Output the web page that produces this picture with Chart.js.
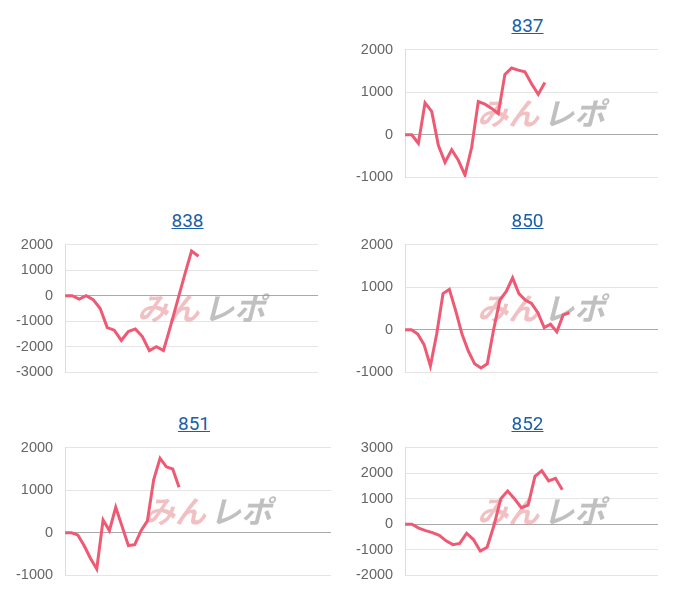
<!DOCTYPE html>
<html><head><meta charset="utf-8">
<script src="https://cdn.jsdelivr.net/npm/chart.js@4"></script>
<style>
body{margin:0;background:#fff;font-family:Roboto,"Liberation Sans",sans-serif;}
.box{position:absolute;width:320px;height:200px;}
.t{position:absolute;left:0;width:100%;top:14px;text-align:center;font-size:19px;}
.t a{color:#1b5fa8;text-decoration:underline;}
.box canvas{position:absolute;left:0;top:29px;}
</style></head><body>
<script>
const s837 = [0,0,-200,750,550,-250,-650,-350,-600,-950,-300,780,720,620,500,1420,1570,1520,1480,1200,950,1230];
const s838 = [0,0,-130,0,-150,-500,-1250,-1350,-1750,-1400,-1300,-1600,-2150,-2000,-2150,-1200,-200,800,1750,1550];
const s850 = [0,0,-100,-350,-850,-100,850,950,450,-100,-500,-800,-900,-800,0,700,900,1220,850,700,620,400,50,130,-50,350,400];
const s851 = [0,0,-50,-300,-600,-850,300,50,600,150,-300,-280,50,280,1250,1750,1550,1500,1070];
const s852 = [0,0,-150,-250,-330,-430,-650,-800,-750,-350,-600,-1050,-900,-50,1000,1300,1000,650,750,1880,2100,1700,1800,1350];
const charts = [
 {name:'837', data:s837, slots:39, min:-1000, max:2000, step:1000, left:340, top:0, w:320},
 {name:'838', data:s838, slots:37, min:-3000, max:2000, step:1000, left:0, top:195, w:320},
 {name:'850', data:s850, slots:41, min:-1000, max:2000, step:1000, left:340, top:195, w:320},
 {name:'851', data:s851, slots:43, min:-1000, max:2000, step:1000, left:0, top:398, w:333},
 {name:'852', data:s852, slots:38, min:-2000, max:3000, step:1000, left:340, top:398, w:320}
];
const wm = {id:'wm', beforeDatasetsDraw(c){
  const a=c.chartArea, ctx=c.ctx; ctx.save();
  const cx=a.left+a.width*0.53, cy=a.top+a.height*0.5;
  ctx.font='italic bold 31px "Noto Sans CJK JP"'; ctx.textBaseline='middle';
  ctx.fillStyle='rgba(232,150,155,0.6)'; ctx.textAlign='right'; ctx.fillText('みん',cx,cy);
  ctx.fillStyle='rgba(150,150,150,0.6)'; ctx.textAlign='left'; ctx.fillText('レポ',cx+4,cy);
  ctx.restore();}};
charts.forEach(cf=>{
  const box=document.createElement('div'); box.className='box';
  box.style.left=cf.left+'px'; box.style.top=cf.top+'px'; box.style.width=cf.w+'px';
  box.innerHTML='<div class="t" style="padding-left:55px;box-sizing:border-box"><a href="#">'+cf.name+'</a></div>';
  const cv=document.createElement('canvas'); cv.width=cf.w; cv.height=169;
  cv.style.width=cf.w+'px'; cv.style.height='169px';
  box.appendChild(cv); document.body.appendChild(box);
  new Chart(cv,{type:'line',plugins:[wm],
    data:{labels:Array.from({length:cf.slots},(_,i)=>i+1),
      datasets:[{data:cf.data,borderColor:'#ee5a74',borderWidth:3,pointRadius:0,tension:0,fill:false}]},
    options:{responsive:false,animation:false,
      layout:{padding:{top:0,bottom:0,right:2,left:4}},
      plugins:{legend:{display:false},tooltip:{enabled:false}},
      scales:{x:{ticks:{display:false},grid:{display:false,drawTicks:false},border:{display:false}},
        y:{min:cf.min,max:cf.max,ticks:{stepSize:cf.step,color:'#666',callback:v=>String(v),font:{size:14.5,family:'"Liberation Sans"'},padding:12},
          grid:{drawTicks:false,color:c=>c.tick.value===0?'#aaa':'#e5e5e5'},border:{color:'#ddd'}}}}});
});
</script></body></html>
